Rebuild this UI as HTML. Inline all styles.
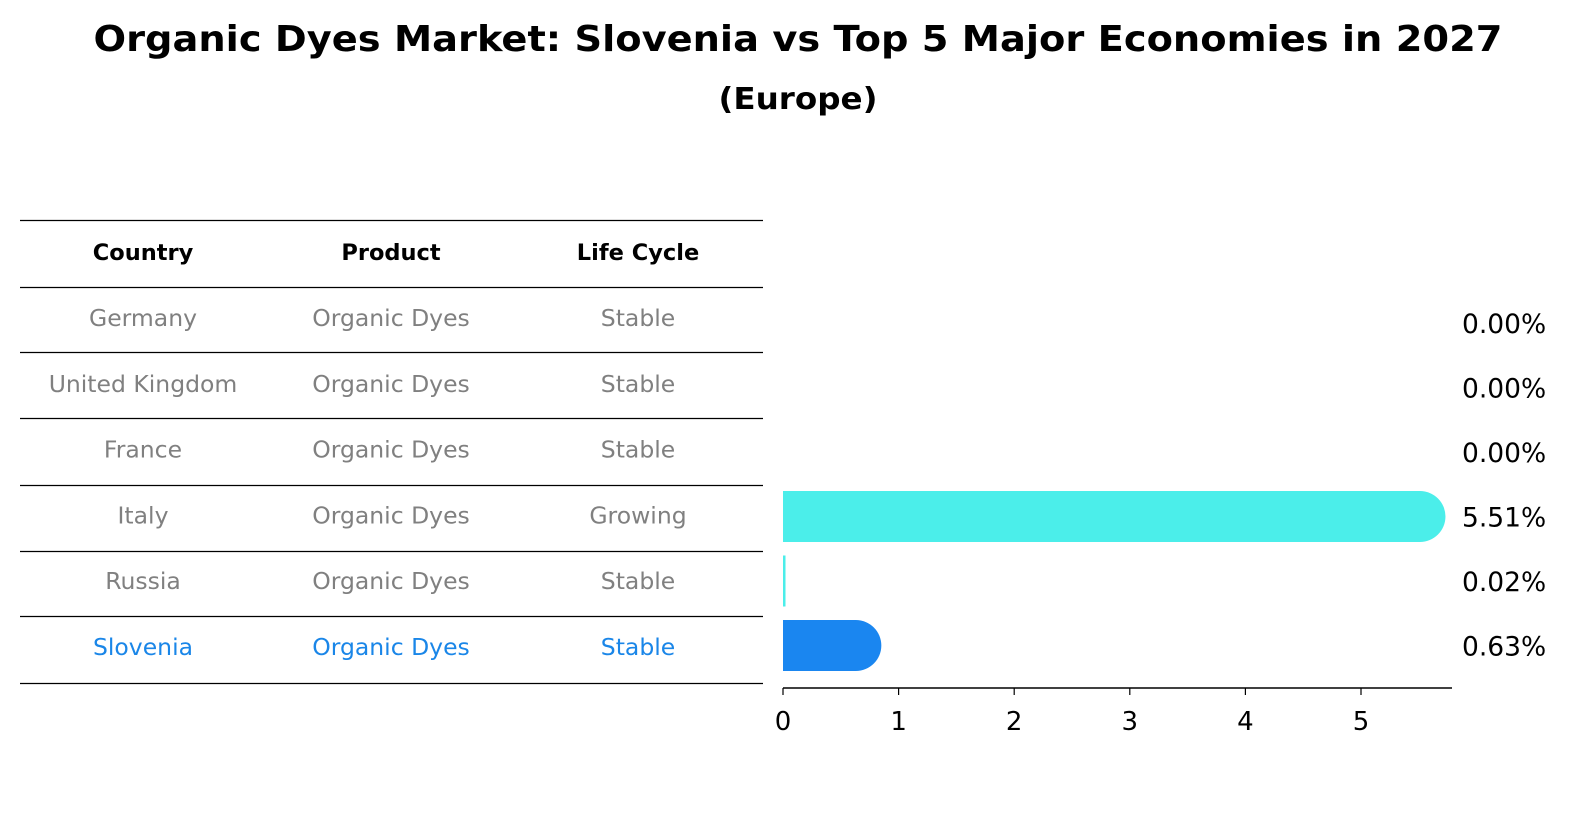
<!DOCTYPE html>
<html><head><meta charset="utf-8"><style>
body{margin:0;background:#fff;width:1586px;height:823px;overflow:hidden;font-family:"DejaVu Sans","Liberation Sans",sans-serif}
</style></head><body>
<svg width="1586" height="823" viewBox="0 0 1586 823" id="svg" font-family="DejaVu Sans, Liberation Sans, sans-serif">
<text x="798" y="51" text-anchor="middle" font-size="36" font-weight="bold" textLength="1409" lengthAdjust="spacingAndGlyphs">Organic Dyes Market: Slovenia vs Top 5 Major Economies in 2027</text>
<text x="798" y="109" text-anchor="middle" font-size="30" font-weight="bold" textLength="159" lengthAdjust="spacingAndGlyphs">(Europe)</text>
<g id="table"></g>
<g id="bars"></g>
</svg>
<script>
const countries=["Germany","United Kingdom","France","Italy","Russia","Slovenia"];
const products=["Organic Dyes","Organic Dyes","Organic Dyes","Organic Dyes","Organic Dyes","Organic Dyes"];
const lifecycle=["Stable","Stable","Stable","Growing","Stable","Stable"];
const values=[0.00,0.00,0.00,5.51,0.02,0.63];
const ticks=[0,1,2,3,4,5];
const NS="http://www.w3.org/2000/svg";
function mk(t,a,p){const e=document.createElementNS(NS,t);for(const k in a)e.setAttribute(k,a[k]);p.appendChild(e);return e;}
const tbl=document.getElementById('table');
const lineYs=[220.5,287.5,352.5,418.5,485.5,551.5,616.5,683.5];
lineYs.forEach(y=>{const l=mk('line',{x1:20,x2:763,y1:y,y2:y,stroke:'#000','stroke-width':1.2},tbl);

});
const colX=[143,391,638];
["Country","Product","Life Cycle"].forEach((h,i)=>{const t=mk('text',{x:colX[i],y:260,'text-anchor':'middle','font-size':22.5,'font-weight':'bold'},tbl);t.textContent=h;

});
function rowY(i){return 318+i*65.8;}
countries.forEach((c,i)=>{const col=c==="Slovenia"?"#1a86e8":"#808080";
[c,products[i],lifecycle[i]].forEach((v,j)=>{const t=mk('text',{x:colX[j],y:rowY(i)+8,'text-anchor':'middle','font-size':23.5,fill:col},tbl);t.textContent=v;

});});
const g=document.getElementById('bars');
const x0=783,ppu=115.6;
function X(v){return x0+v*ppu;}
const bh=51;
values.forEach((v,i)=>{const cy=323+i*64.5;const col=countries[i]==="Slovenia"?"#1a86f0":"#4beeea";
if(v>0){const r=bh/2;const x1=X(v);
const p=mk('path',{d:`M${x0},${cy-r} L${x1},${cy-r} A${r},${r} 0 0 1 ${x1},${cy+r} L${x0},${cy+r} Z`,fill:col},g);
if(v<0.1){p.setAttribute('d',`M${x0},${cy-r} h2.5 v${bh} h-2.5 Z`);}

}
const t=mk('text',{x:1462,y:cy+10,'font-size':26.5},g);t.textContent=v.toFixed(2)+'%';

});
const ax=mk('line',{x1:x0,x2:1452,y1:688,y2:688,stroke:'#000','stroke-width':1.5},g);


ticks.forEach(tv=>{const l=mk('line',{x1:X(tv),x2:X(tv),y1:688,y2:695,stroke:'#000','stroke-width':1.2},g);


const t=mk('text',{x:X(tv),y:730,'text-anchor':'middle','font-size':26},g);t.textContent=tv;

});
</script>
</body></html>
